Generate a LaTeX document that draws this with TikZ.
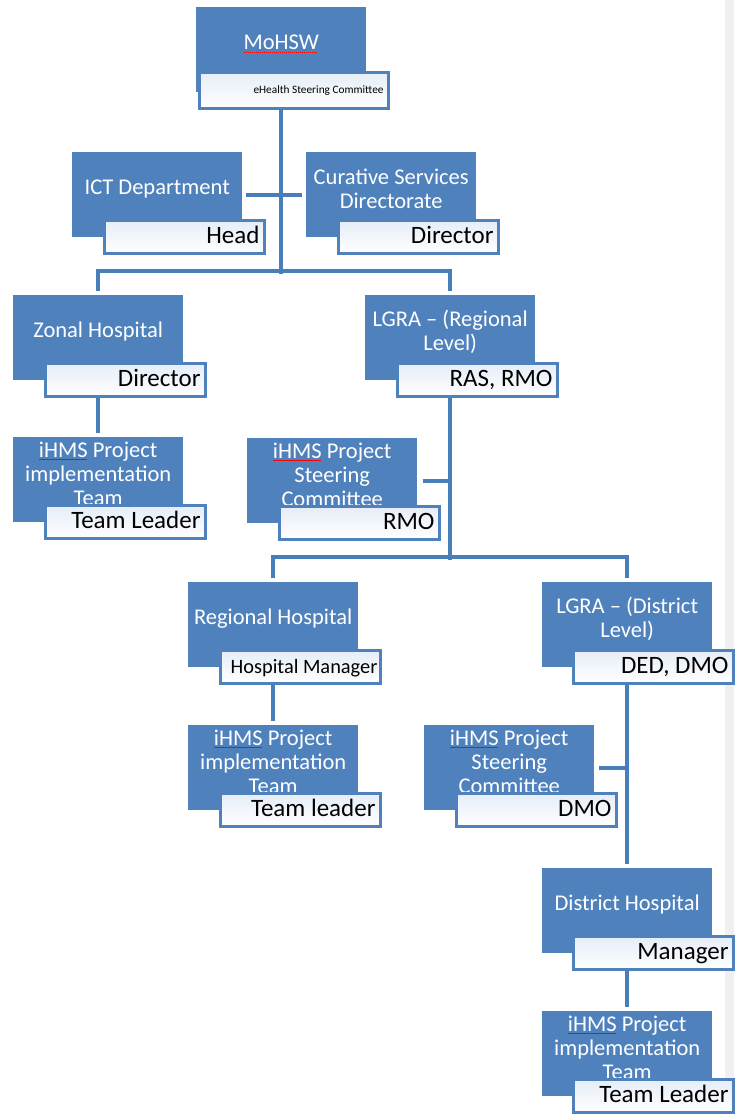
\documentclass[tikz,border=0pt]{standalone}
\usepackage{fontspec}
\setmainfont{Carlito}
\usepackage{tikz}

\definecolor{unitblue}{HTML}{4F81BD}
\definecolor{linkblue}{HTML}{4A7EBB}
\definecolor{rolelight}{HTML}{E6EDF7}
\definecolor{sidebar}{HTML}{F0F0F0}

\newcommand\spellflag[1]{\sbox0{#1}\rlap{\color{red}\raisebox{-3pt}{\hbox to \wd0{\leaders\hbox to 2pt{\hss\rule{1.1pt}{0.9pt}\hss}\hfil}}}#1}

\begin{document}
\begin{tikzpicture}[x=1pt,y=-1pt,
    unit/.style={anchor=north west,fill=unitblue,minimum width=170pt,minimum height=85pt,inner sep=0pt},
    unittext/.style={text=white,align=center,inner sep=0pt,font=\fontsize{22.5}{24}\selectfont},
    role/.style={anchor=north west,draw=unitblue,line width=3pt,top color=rolelight,bottom color=white,
        minimum height=33pt,text width=150pt,align=flush right,inner xsep=5pt,inner ysep=0pt,
        text height=16pt,text depth=3pt,font=\fontsize{25}{27}\selectfont},
    link/.style={draw=linkblue,line width=4pt},
    tobox/.style={shorten >=4pt}]
    \useasboundingbox (0,0) rectangle (734,1114);
    \fill[sidebar] (725,0) rectangle (734,1114);

    \node[unit] (moh) at (196,7) {};
    \node[unittext] (moh-t) at ([yshift=6pt]moh.center) {\spellflag{MoHSW}};
    \node[role,text width=179pt,minimum height=36pt,text height=8pt,text depth=2pt,font=\fontsize{11.3}{13}\selectfont] (moh-r) at (198,71) {eHealth Steering Committee};

    \node[unit] (ict) at (72,152) {};
    \node[unittext] (ict-t) at ([yshift=6pt]ict.center) {ICT Department};
    \node[role] (ict-r) at (103,219) {Head};

    \node[unit] (cur) at (306,152) {};
    \node[unittext] (cur-t) at ([yshift=6pt]cur.center) {Curative Services\\Directorate};
    \node[role] (cur-r) at (337,219) {Director};

    \node[unit] (zon) at (13,295) {};
    \node[unittext] (zon-t) at ([yshift=6pt]zon.center) {Zonal Hospital};
    \node[role] (zon-r) at (44,362) {Director};

    \node[unit] (lgrar) at (365,295) {};
    \node[unittext] (lgrar-t) at ([yshift=6pt]lgrar.center) {LGRA – (Regional\\Level)};
    \node[role] (lgrar-r) at (396,362) {RAS, RMO};

    \node[unit] (zteam) at (13,437) {};
    \node[unittext] (zteam-t) at ([yshift=6pt]zteam.center) {\spellflag{iHMS} Project\\implementation\\Team};
    \node[role] (zteam-r) at (44,504) {Team Leader};

    \node[unit] (rsteer) at (247,438) {};
    \node[unittext] (rsteer-t) at ([yshift=6pt]rsteer.center) {\spellflag{iHMS} Project\\Steering\\Committee};
    \node[role] (rsteer-r) at (278,505) {RMO};

    \node[unit] (rhosp) at (188,582) {};
    \node[unittext] (rhosp-t) at ([yshift=6pt]rhosp.center) {Regional Hospital};
    \node[role,text width=154pt,inner xsep=3pt,font=\fontsize{20.4}{22}\selectfont] (rhosp-r) at (219,649) {Hospital Manager};

    \node[unit] (lgrad) at (542,582) {};
    \node[unittext] (lgrad-t) at ([yshift=6pt]lgrad.center) {LGRA – (District\\Level)};
    \node[role] (lgrad-r) at (572,649) {DED, DMO};

    \node[unit] (rteam) at (188,725) {};
    \node[unittext] (rteam-t) at ([yshift=6pt]rteam.center) {\spellflag{iHMS} Project\\implementation\\Team};
    \node[role] (rteam-r) at (219,792) {Team leader};

    \node[unit] (dsteer) at (424,725) {};
    \node[unittext] (dsteer-t) at ([yshift=6pt]dsteer.center) {\spellflag{iHMS} Project\\Steering\\Committee};
    \node[role] (dsteer-r) at (455,792) {DMO};

    \node[unit] (dhosp) at (542,868) {};
    \node[unittext] (dhosp-t) at ([yshift=6pt]dhosp.center) {District Hospital};
    \node[role] (dhosp-r) at (572,935) {Manager};

    \node[unit] (dteam) at (542,1011) {};
    \node[unittext] (dteam-t) at ([yshift=6pt]dteam.center) {\spellflag{iHMS} Project\\implementation\\Team};
    \node[role] (dteam-r) at (572,1078) {Team Leader};

    \draw[link] (moh.south |- moh-r.south) -- ++(0,164);
    \draw[link] ([xshift=4pt]ict.east) -- ([xshift=-4pt]cur.west);
    \draw[link,tobox,shorten <=4pt] (zon.north) -- ++(0,-24) -| (lgrar.north);
    \draw[link,tobox] (zon.south |- zon-r.south) -- (zteam.north);
    \draw[link] (lgrar.south |- lgrar-r.south) -- ++(0,162);
    \draw[link] ([xshift=6pt]rsteer.east) -- (rsteer.east -| lgrar.south);
    \draw[link,tobox,shorten <=4pt] (rhosp.north) -- ++(0,-25) -| (lgrad.north);
    \draw[link,tobox] (rhosp.south |- rhosp-r.south) -- (rteam.north);
    \draw[link,tobox] (lgrad.south |- lgrad-r.south) -- (dhosp.north);
    \draw[link] ([xshift=5pt]dsteer.east) -- (dsteer.east -| lgrad.south);
    \draw[link,tobox] (dhosp.south |- dhosp-r.south) -- (dteam.north);
\end{tikzpicture}
\end{document}
